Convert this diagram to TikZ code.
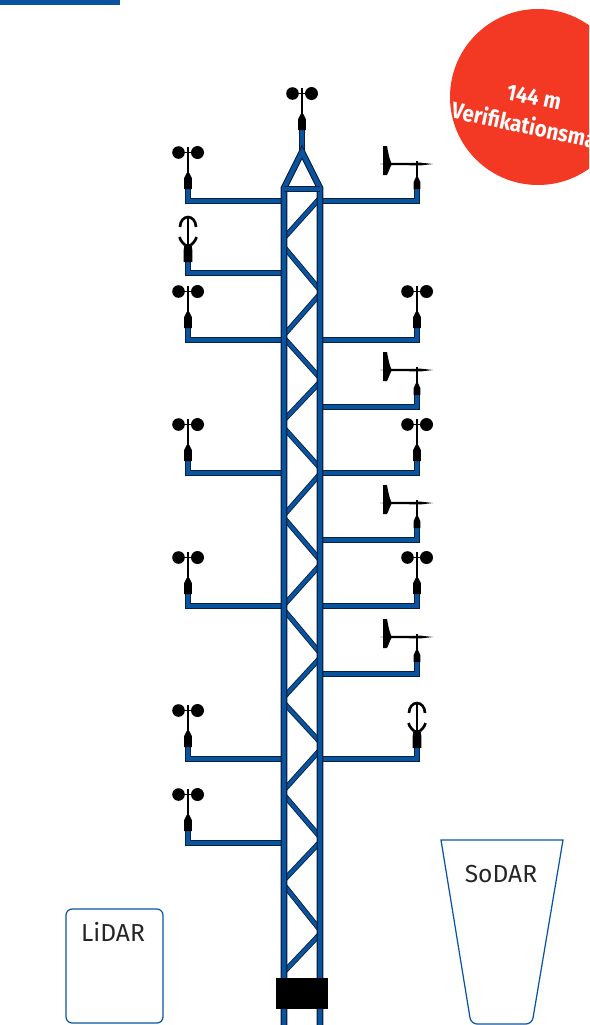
\documentclass[tikz,border=0pt]{standalone}
\usepackage{fontspec}
\setmainfont{Fira Sans}
\newfontfamily\mastfont[FakeStretch=0.9]{Fira Sans}
\definecolor{mastblue}{HTML}{0A549F}
\definecolor{mastedge}{HTML}{08203F}
\definecolor{flagred}{HTML}{F33824}
\tikzset{
	steel/.style={line width=0.65pt, draw=mastedge, double=mastblue, double distance=2.5pt, line join=miter},
	brace/.style={line width=0.5pt, draw=mastedge, double=mastblue, double distance=2pt, line cap=butt},
	device/.style={draw=mastblue, line width=0.7pt},
	label/.style={font=\fontsize{14}{16}\selectfont, text=black!85, inner sep=0pt},
	flagtext/.style={rotate=-12, text=white, font=\fontsize{13}{15}\mastfont\bfseries\selectfont, inner sep=0pt}
}
% #1 = x of the upright, #2 = y of the arm
\newcommand{\cupsensor}[2]{
	\fill ({#1-3.8},{#2-12}) -- ({#1-3.8},{#2-23}) -- ({#1-1.3},{#2-28}) -- ({#1+1.3},{#2-28}) -- ({#1+3.8},{#2-23}) -- ({#1+3.8},{#2-12}) -- cycle;
	\draw [line width=1.5pt] (#1,{#2-27}) -- (#1,{#2-54});
	\draw [line width=0.8pt] ({#1-10},{#2-48.5}) -- ({#1+10},{#2-48.5});
	\fill ({#1-9.5},{#2-48.5}) circle (6.3);
	\fill ({#1+9.5},{#2-48.5}) circle (6.5);
}
\newcommand{\vanesensor}[2]{
	\fill ({#1-3.3},{#2-12}) -- ({#1-3.3},{#2-19}) -- ({#1-1},{#2-24}) -- ({#1+1},{#2-24}) -- ({#1+3.3},{#2-19}) -- ({#1+3.3},{#2-12}) -- cycle;
	\draw [line width=1.3pt] (#1,{#2-24}) -- (#1,{#2-40});
	\fill ({#1-34},{#2-55}) -- ({#1-30},{#2-55}) .. controls ({#1-28},{#2-44}) and ({#1-27},{#2-40}) .. ({#1-25},{#2-37}) .. controls ({#1-27},{#2-34}) and ({#1-28},{#2-30}) .. ({#1-30},{#2-26}) -- ({#1-34},{#2-26}) -- cycle;
	\fill ({#1-37},{#2-37}) -- ({#1-26},{#2-38}) -- ({#1+4},{#2-38.3}) -- ({#1+16},{#2-37}) -- ({#1+4},{#2-35.6}) -- ({#1-26},{#2-36}) -- cycle;
}
\newcommand{\sonicsensor}[2]{
	\fill ({#1-4.3},{#2-11}) -- ({#1-4.3},{#2-23}) -- ({#1-3.5},{#2-29}) -- ({#1+3.5},{#2-29}) -- ({#1+4.3},{#2-23}) -- ({#1+4.3},{#2-11}) -- cycle;
	\draw [line width=0.7pt] (#1,{#2-28}) -- (#1,{#2-56});
	\draw [line width=1.5pt] ({#1-8},{#2-46}) .. controls ({#1-8},{#2-52}) and ({#1-4},{#2-56}) .. (#1,{#2-56}) .. controls ({#1+4},{#2-56}) and ({#1+8},{#2-52}) .. ({#1+8},{#2-46});
	\draw [line width=1.5pt] ({#1-8.5},{#2-36}) .. controls ({#1-7.5},{#2-32}) and ({#1-5},{#2-30}) .. ({#1-3},{#2-28});
	\draw [line width=1.5pt] ({#1+8.5},{#2-36}) .. controls ({#1+7.5},{#2-32}) and ({#1+5},{#2-30}) .. ({#1+3},{#2-28});
}
\begin{document}
\begin{tikzpicture}[x=0.02cm, y=-0.02cm]
	\useasboundingbox (0,0) rectangle (589,1025);
	\clip (0,0) rectangle (589,1025);
	
	\fill [mastblue] (0,0) rectangle (120,5);
	
	\fill [flagred] (538,97) circle (88);
	\node [flagtext] (mastheight) at (534,97) {144 m};
	\node [flagtext, anchor=west] (mastname) at (452,109) {Verifikationsma};
	
	\draw [steel] (188,185) -- (188,201) -- (284,201);
	\draw [steel] (188,256) -- (188,273) -- (284,273);
	\draw [steel] (188,323) -- (188,340) -- (284,340);
	\draw [steel] (188,456) -- (188,473) -- (284,473);
	\draw [steel] (188,589) -- (188,606) -- (284,606);
	\draw [steel] (188,742) -- (188,759) -- (284,759);
	\draw [steel] (188,827) -- (188,843) -- (284,843);
	
	\draw [steel] (417,185) -- (417,201) -- (320,201);
	\draw [steel] (417,323) -- (417,340) -- (320,340);
	\draw [steel] (417,389) -- (417,407) -- (320,407);
	\draw [steel] (417,456) -- (417,473) -- (320,473);
	\draw [steel] (417,523) -- (417,540) -- (320,540);
	\draw [steel] (417,589) -- (417,606) -- (320,606);
	\draw [steel] (417,656) -- (417,674) -- (320,674);
	\draw [steel] (417,742) -- (417,759) -- (320,759);
	
	\draw [brace] (320,198) -- (284,238);
	\draw [brace] (284,247) -- (320,290);
	\draw [brace] (320,294) -- (284,335);
	\draw [brace] (284,338) -- (320,378);
	\draw [brace] (320,382) -- (284,420);
	\draw [brace] (284,428) -- (320,468);
	\draw [brace] (320,474) -- (284,515);
	\draw [brace] (284,518) -- (320,560);
	\draw [brace] (320,565) -- (284,605);
	\draw [brace] (284,610) -- (320,653);
	\draw [brace] (320,658) -- (284,697);
	\draw [brace] (284,703) -- (320,742);
	\draw [brace] (320,750) -- (284,790);
	\draw [brace] (284,795) -- (320,837);
	\draw [brace] (320,842) -- (284,880);
	\draw [brace] (284,885) -- (320,930);
	\draw [brace] (320,934) -- (284,972);
	
	\draw [steel] (302,130) -- (302,152);
	\draw [steel] (284,1030) -- (284,188) -- (302,152) -- (320,188) -- (320,1030);
	\draw [steel] (284,189) -- (320,189);
	
	\fill (276,978) rectangle (328,1009);
	
	\cupsensor{302}{142}
	\cupsensor{188}{201}
	\sonicsensor{188}{273}
	\cupsensor{188}{340}
	\cupsensor{188}{473}
	\cupsensor{188}{606}
	\cupsensor{188}{759}
	\cupsensor{188}{843}
	
	\vanesensor{417}{201}
	\cupsensor{417}{340}
	\vanesensor{417}{407}
	\cupsensor{417}{473}
	\vanesensor{417}{540}
	\cupsensor{417}{606}
	\vanesensor{417}{674}
	\sonicsensor{417}{759}
	
	\draw [device, rounded corners=3.5pt] (66,909) rectangle (163,1023);
	\node [label] (lidar) at (113,932) {LiDAR};
	
	\draw [device] (441,840) -- (563,840) [rounded corners=3.5pt] -- (532,1024) -- (471,1024) [sharp corners] -- cycle;
	\node [label] (sodar) at (501,874) {SoDAR};
\end{tikzpicture}
\end{document}
